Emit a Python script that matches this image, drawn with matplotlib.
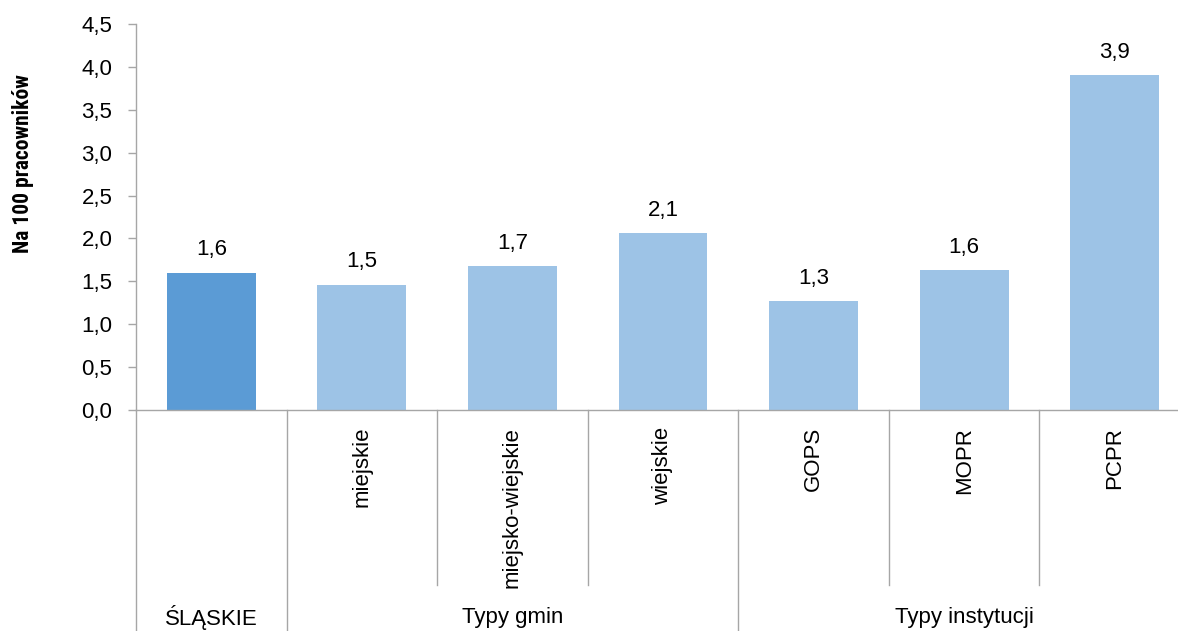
import matplotlib
matplotlib.use("Agg")
import matplotlib.pyplot as plt
import matplotlib.transforms as mtransforms
import numpy as np

plt.rcParams['font.family'] = ['Liberation Sans', 'DejaVu Sans']

# data
subLabels = ["", "miejskie", "miejsko-wiejskie", "wiejskie", "GOPS", "MOPR", "PCPR"]
values = [1.60, 1.46, 1.68, 2.06, 1.27, 1.63, 3.90]
groupNames = ["ŚLĄSKIE", "Typy gmin", "Typy instytucji"]
groupSizes = [1, 3, 3]
yTicks = [0.0, 0.5, 1.0, 1.5, 2.0, 2.5, 3.0, 3.5, 4.0, 4.5]

darkBlue = "#5B9BD5"
lightBlue = "#9DC3E6"
gridGray = "#A6A6A6"
fs = 16

W, H = 1178, 631
fig = plt.figure(figsize=(W / 100, H / 100), dpi=100)
ax = fig.add_axes([136 / W, (H - 410) / H, (1190 - 136) / W, (410 - 24) / H])

x = np.arange(len(values))
colors = [darkBlue] + [lightBlue] * (len(values) - 1)
ax.bar(x, values, width=0.59, color=colors, zorder=2)

for xi, v in zip(x, values):
    ax.annotate(f"{v:.1f}".replace(".", ","), (xi, v), xytext=(0, 12.5),
                textcoords="offset points", ha="center", va="baseline", fontsize=fs)

ax.set_xlim(-0.5, len(values) - 0.5)
ax.set_ylim(0, 4.5)
ax.set_yticks(yTicks)
ax.set_yticklabels([f"{t:.1f}".replace(".", ",") for t in yTicks], fontsize=fs)
ax.tick_params(axis="y", direction="out", length=6, width=1, color=gridGray, pad=11)

ax.set_xticks(x)
ax.set_xticklabels(subLabels, rotation=90, va="top", ha="center", fontsize=fs)
ax.tick_params(axis="x", length=0, pad=12)

for side in ["top", "right"]:
    ax.spines[side].set_visible(False)
for side in ["left", "bottom"]:
    ax.spines[side].set_color(gridGray)
    ax.spines[side].set_linewidth(1)

# category separators below the axis
trans = mtransforms.blended_transform_factory(ax.transData, fig.transFigure)
axisY = (H - 410) / H
shortY = (H - 585) / H
bounds = np.cumsum([0] + groupSizes) - 0.5
groupEdges = set(bounds.tolist())
for b in np.arange(len(values) + 1) - 0.5:
    y0 = 0 if b in groupEdges else shortY
    ax.plot([b, b], [y0, axisY], transform=trans, color=gridGray, lw=1, clip_on=False)

# group labels
for name, lo, hi in zip(groupNames, bounds[:-1], bounds[1:]):
    ax.text((lo + hi) / 2, (H - 617) / H, name, transform=trans,
            ha="center", va="center", fontsize=fs)

# narrow bold like the original
fig.text(23 / W, (H - 164) / H, "Na 100 pracowników", rotation=90,
         ha="center", va="center", fontsize=15.5, fontweight="bold",
         family=["Roboto Condensed", "Liberation Sans", "DejaVu Sans"])

fig.savefig("out.png", dpi=100)
